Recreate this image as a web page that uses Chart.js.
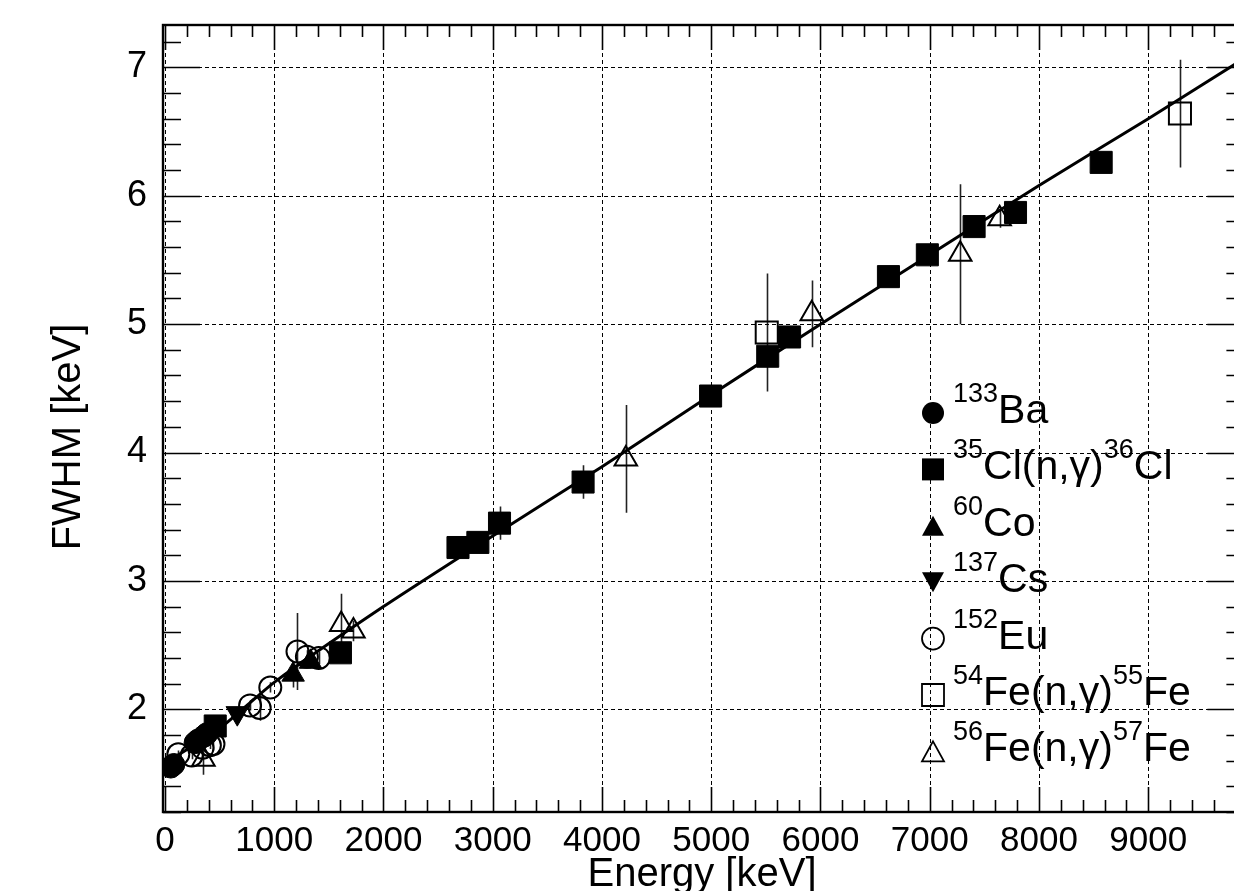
<!DOCTYPE html>
<html>
<head>
<meta charset="utf-8">
<script src="https://cdn.jsdelivr.net/npm/chart.js@4.4.0/dist/chart.umd.min.js"></script>
<style>
html, body { margin: 0; padding: 0; background: #fff; overflow: hidden; }
#wrap { position: relative; width: 1234px; height: 891px; overflow: hidden; }
canvas { position: absolute; left: 0; top: 0; }
</style>
</head>
<body>
<div id="wrap"><canvas id="c" width="1262" height="891"></canvas></div>
<script>
// 133Ba
const baE = [53, 81, 276, 303, 356, 384];
const baW = [1.55, 1.57, 1.74, 1.76, 1.79, 1.81];
// 35Cl(n,g)36Cl
const clE = [460, 1606, 2682, 2864, 3062, 3827, 4994, 5517, 5717, 6622, 6978, 7406, 7785, 8569];
const clW = [1.87, 2.44, 3.26, 3.30, 3.45, 3.77, 4.44, 4.75, 4.90, 5.37, 5.54, 5.76, 5.87, 6.26];
const clErr = [0.03, 0.03, 0.03, 0.03, 0.13, 0.13, 0.04, 0.05, 0.04, 0.04, 0.07, 0.04, 0.04, 0.06];
// 60Co
const coE = [1173, 1332];
const coW = [2.27, 2.37];
const coErr = [0.10, 0.05];
// 137Cs
const csE = [662];
const csW = [1.97];
// 152Eu
const euE = [122, 245, 344, 411, 444, 779, 867, 964, 1213, 1299, 1408];
const euW = [1.65, 1.64, 1.70, 1.72, 1.73, 2.03, 2.01, 2.17, 2.45, 2.41, 2.40];
const euErr = [0.03, 0.03, 0.03, 0.03, 0.05, 0.04, 0.10, 0.04, 0.30, 0.05, 0.05];
// 54Fe(n,g)55Fe
const fe55E = [5508, 9290];
const fe55W = [4.935, 6.64];
const fe55Err = [0.46, 0.42];
// 56Fe(n,g)57Fe
const fe57E = [352, 1613, 1725, 4218, 5920, 7279, 7640];
const fe57W = [1.61, 2.66, 2.61, 3.95, 5.08, 5.545, 5.82];
const fe57Err = [0.12, 0.24, 0.08, 0.42, 0.26, 0.545, 0.07];
// fit curve
const fitE = [40, 515, 1000, 2000, 3000, 4000, 5000, 6000, 7000, 8000, 9000, 9880];
const fitW = [1.60, 1.86, 2.21, 2.80, 3.35, 3.89, 4.45, 5.00, 5.54, 6.08, 6.60, 7.07];

const xTicks = [0, 1000, 2000, 3000, 4000, 5000, 6000, 7000, 8000, 9000];
const xTickLabels = ['0', '1000', '2000', '3000', '4000', '5000', '6000', '7000', '8000', '9000'];
const yTicks = [2, 3, 4, 5, 6, 7];
const yTickLabels = ['2', '3', '4', '5', '6', '7'];

const FONT = '"Liberation Sans", Arial, sans-serif';

function pts(xs, ys, errs) {
    return xs.map((x, i) => ({ x: x, y: ys[i], err: errs ? errs[i] : 0 }));
}

function markerSet(label, data, style, filled, radius, rotation) {
    return {
        label: label,
        data: data,
        showLine: false,
        pointStyle: style,
        pointRadius: radius,
        pointRotation: rotation || 0,
        pointBackgroundColor: filled ? '#000' : 'rgba(0,0,0,0)',
        pointBorderColor: '#000',
        pointBorderWidth: filled ? 1 : 2
    };
}

// error bars, drawn under the markers
const errorBars = {
    id: 'errorBars',
    beforeDatasetsDraw(chart) {
        const ctx = chart.ctx, xs = chart.scales.x, ys = chart.scales.y, a = chart.chartArea;
        ctx.save();
        ctx.beginPath();
        ctx.rect(a.left, a.top, a.right - a.left, a.bottom - a.top);
        ctx.clip();
        ctx.strokeStyle = '#222';
        ctx.lineWidth = 1.6;
        chart.data.datasets.forEach(ds => {
            ds.data.forEach(p => {
                if (!p.err) return;
                const px = Math.round(xs.getPixelForValue(p.x)) + 0.5;
                ctx.beginPath();
                ctx.moveTo(px, ys.getPixelForValue(p.y - p.err));
                ctx.lineTo(px, ys.getPixelForValue(p.y + p.err));
                ctx.stroke();
            });
        });
        ctx.restore();
    }
};

// ROOT style frame: dashed grid, ticks pointing inside
const frame = {
    id: 'frame',
    beforeDatasetsDraw(chart) {
        const ctx = chart.ctx, xs = chart.scales.x, ys = chart.scales.y, a = chart.chartArea;
        ctx.save();
        ctx.strokeStyle = '#000';
        ctx.lineWidth = 1;
        ctx.setLineDash([4, 3]);
        xTicks.forEach(v => {
            const px = Math.round(xs.getPixelForValue(v)) + 0.5;
            if (px <= a.left + 2) return;
            ctx.beginPath(); ctx.moveTo(px, a.top); ctx.lineTo(px, a.bottom); ctx.stroke();
        });
        yTicks.forEach(v => {
            const py = Math.round(ys.getPixelForValue(v)) + 0.5;
            ctx.beginPath(); ctx.moveTo(a.left, py); ctx.lineTo(a.right, py); ctx.stroke();
        });
        ctx.restore();
    },
    afterDatasetsDraw(chart) {
        const ctx = chart.ctx, xs = chart.scales.x, ys = chart.scales.y, a = chart.chartArea;
        ctx.save();
        ctx.strokeStyle = '#000';
        ctx.setLineDash([]);
        ctx.lineWidth = 1.6;
        // x ticks, bottom and top
        for (let v = 0; v <= xs.max; v += 200) {
            const px = Math.round(xs.getPixelForValue(v)) + 0.5;
            const major = v % 1000 === 0;
            const len = major ? 25 : 12;
            ctx.beginPath();
            ctx.moveTo(px, a.bottom); ctx.lineTo(px, a.bottom - len);
            ctx.moveTo(px, a.top); ctx.lineTo(px, a.top + len);
            ctx.stroke();
        }
        // y ticks, left and right
        for (let k = 6; k <= 36; k++) {
            const v = k / 5;
            if (v > ys.max) break;
            const py = Math.round(ys.getPixelForValue(v)) + 0.5;
            const major = k % 5 === 0;
            const len = major ? 37 : 18;
            ctx.beginPath();
            ctx.moveTo(a.left, py); ctx.lineTo(a.left + len, py);
            ctx.moveTo(a.right, py); ctx.lineTo(a.right - len, py);
            ctx.stroke();
        }
        ctx.lineWidth = 2.4;
        ctx.strokeRect(a.left, a.top, a.right - a.left, a.bottom - a.top);
        ctx.restore();
    },
    afterDraw(chart) {
        const ctx = chart.ctx;
        ctx.save();
        ctx.fillStyle = '#000';
        ctx.font = '40px ' + FONT;
        ctx.textAlign = 'center';
        ctx.textBaseline = 'alphabetic';
        ctx.fillText('Energy [keV]', 702, 886);
        ctx.translate(80, 437);
        ctx.rotate(-Math.PI / 2);
        ctx.fillText('FWHM [keV]', 0, 0);
        ctx.restore();
    }
};

// legend with superscripts
const legendRows = [
    { shape: 'circle', filled: true, parts: [['133', 1], ['Ba', 0]] },
    { shape: 'square', filled: true, parts: [['35', 1], ['Cl(n,γ)', 0], ['36', 1], ['Cl', 0]] },
    { shape: 'tri', filled: true, parts: [['60', 1], ['Co', 0]] },
    { shape: 'itri', filled: true, parts: [['137', 1], ['Cs', 0]] },
    { shape: 'circle', filled: false, parts: [['152', 1], ['Eu', 0]] },
    { shape: 'square', filled: false, parts: [['54', 1], ['Fe(n,γ)', 0], ['55', 1], ['Fe', 0]] },
    { shape: 'tri', filled: false, parts: [['56', 1], ['Fe(n,γ)', 0], ['57', 1], ['Fe', 0]] }
];

const legend = {
    id: 'isoLegend',
    afterDraw(chart) {
        const ctx = chart.ctx;
        const mx = 933, tx = 953, y0 = 423, dy = 56.4;
        ctx.save();
        legendRows.forEach((row, i) => {
            const base = y0 + i * dy;
            const cy = base - 10;
            ctx.beginPath();
            if (row.shape === 'circle') {
                ctx.arc(mx, cy, 11, 0, Math.PI * 2);
            } else if (row.shape === 'square') {
                ctx.rect(mx - 11, cy - 11, 22, 22);
            } else if (row.shape === 'tri') {
                ctx.moveTo(mx, cy - 10); ctx.lineTo(mx + 11, cy + 10); ctx.lineTo(mx - 11, cy + 10); ctx.closePath();
            } else {
                ctx.moveTo(mx, cy + 10); ctx.lineTo(mx + 11, cy - 10); ctx.lineTo(mx - 11, cy - 10); ctx.closePath();
            }
            if (row.filled) { ctx.fillStyle = '#000'; ctx.fill(); }
            else { ctx.lineWidth = 1.8; ctx.strokeStyle = '#000'; ctx.stroke(); }
            let x = tx;
            ctx.fillStyle = '#000';
            ctx.textAlign = 'left';
            ctx.textBaseline = 'alphabetic';
            row.parts.forEach(p => {
                if (p[1]) {
                    ctx.font = '27px ' + FONT;
                    ctx.fillText(p[0], x, base - 21);
                } else {
                    ctx.font = '41px ' + FONT;
                    ctx.fillText(p[0], x, base);
                }
                x += ctx.measureText(p[0]).width;
            });
        });
        ctx.restore();
    }
};

new Chart(document.getElementById('c'), {
    type: 'scatter',
    data: {
        datasets: [
            markerSet('133Ba', pts(baE, baW), 'circle', true, 11),
            markerSet('35Cl(n,g)36Cl', pts(clE, clW, clErr), 'rect', true, 15.6),
            markerSet('60Co', pts(coE, coW, coErr), 'triangle', true, 13),
            markerSet('137Cs', pts(csE, csW), 'triangle', true, 13, 180),
            markerSet('152Eu', pts(euE, euW, euErr), 'circle', false, 11),
            markerSet('54Fe(n,g)55Fe', pts(fe55E, fe55W, fe55Err), 'rect', false, 15.6),
            markerSet('56Fe(n,g)57Fe', pts(fe57E, fe57W, fe57Err), 'triangle', false, 13),
            {
                label: 'fit',
                data: pts(fitE, fitW),
                showLine: true,
                borderColor: '#000',
                borderWidth: 3,
                pointRadius: 0,
                tension: 0.2,
                fill: false
            }
        ]
    },
    options: {
        responsive: false,
        animation: false,
        devicePixelRatio: 1,
        layout: { padding: { left: 0, right: 10, top: 25, bottom: 0 } },
        plugins: { legend: { display: false }, tooltip: { enabled: false } },
        scales: {
            x: {
                type: 'linear',
                min: -18,
                max: 9880,
                grid: { display: false },
                border: { display: false },
                afterBuildTicks: s => { s.ticks = xTicks.map(v => ({ value: v })); },
                afterFit: s => { s.height = 79; s.paddingLeft = 0; s.paddingRight = 0; },
                ticks: {
                    autoSkip: false,
                    maxRotation: 0,
                    padding: 0,
                    color: '#000',
                    font: { family: FONT, size: 35 },
                    callback: (v, i) => xTickLabels[i]
                }
            },
            y: {
                type: 'linear',
                min: 1.2,
                max: 7.33,
                grid: { display: false },
                border: { display: false },
                afterBuildTicks: s => { s.ticks = yTicks.map(v => ({ value: v })); },
                afterFit: s => { s.width = 163; s.paddingTop = 0; s.paddingBottom = 0; },
                ticks: {
                    padding: 8,
                    color: '#000',
                    font: { family: FONT, size: 36 },
                    callback: (v, i) => yTickLabels[i]
                }
            }
        }
    },
    plugins: [errorBars, frame, legend]
});
</script>
</body>
</html>
